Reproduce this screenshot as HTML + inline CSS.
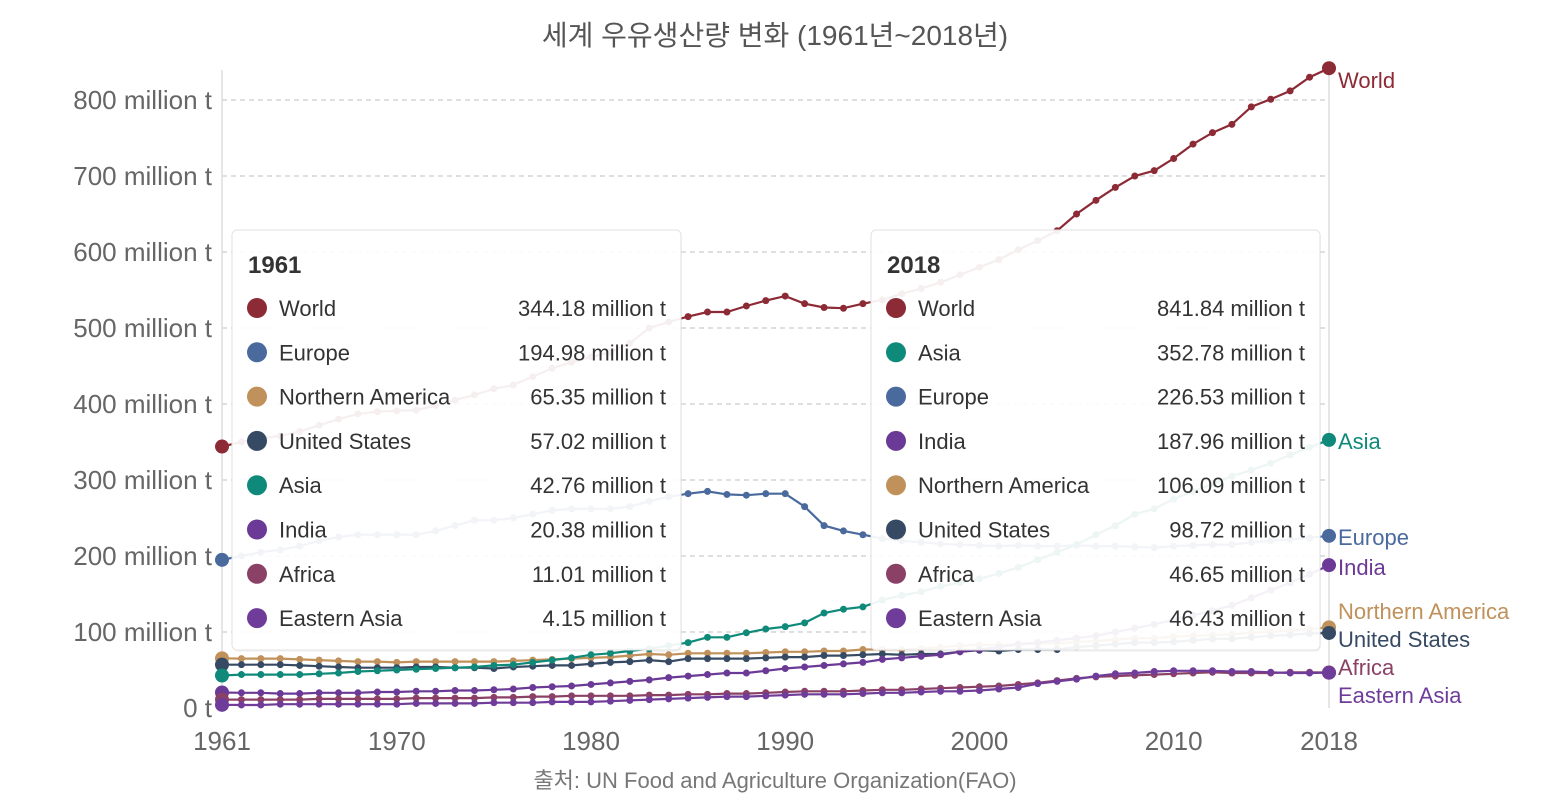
<!DOCTYPE html>
<html><head><meta charset="utf-8">
<style>
body{margin:0;background:#fff;width:1550px;height:800px;overflow:hidden;font-family:"Liberation Sans","Noto Sans CJK KR",sans-serif;}
svg text{font-family:"Liberation Sans","Noto Sans CJK KR",sans-serif;}
</style></head>
<body>
<svg id="chart" width="1550" height="800"></svg>
<script>
const years = []; for (let y = 1961; y <= 2018; y++) years.push(y);
const seriesNames = ["World","Europe","Northern America","United States","Asia","India","Africa","Eastern Asia"];
const seriesColors = ["#8c2a35","#4a6a9e","#c0915a","#374a63","#0f8a7a","#6b3a96","#8b4066","#6f3d99"];
const world = [344,350,355,358,364,372,380,387,390,391,392,398,405,412,420,425,436,447,455,462,468,480,500,508,515,521,521,529,536,542,532,527,526,532,537,545,552,560,570,580,590,603,615,628,650,668,685,700,707,723,742,757,768,791,801,812,830,841.84];
const europe = [194.98,200,205,208,213,220,225,228,228,228,228,233,240,247,247,250,255,260,262,262,262,265,272,278,282,285,281,280,282,282,265,240,233,228,223,220,218,216,215,214,213,214,213,213,214,213,213,212,211,213,214,215,215,218,220,222,224,226.53];
const asia = [42.76,44,44,44,44,45,46,48,49,50,51,52,53,54,56,57,60,63,66,70,72,75,78,82,86,93,93,99,104,107,112,125,130,133,142,148,153,160,165,170,177,185,195,205,215,228,240,255,262,275,285,295,305,313,322,333,343,352.78];
const india = [20.38,20,20,19,19,20,20,20,21,21,22,22,23,23,24,25,27,28,29,31,33,35,37,40,42,44,46,46,49,52,54,56,58,60,64,66,68,70,74,77,80,84,86,89,92,95,100,105,110,116,122,128,135,145,155,165,176,187.96];
const namerica = [65.35,65,65,65,64,63,62,61,61,60,61,61,61,61,61,62,63,64,65,66,67,69,71,70,72,72,72,72,73,74,74,75,75,77,77,77,78,80,82,83,83,84,85,85,87,88,90,92,92,94,95,96,97,99,100,102,104,106.09];
const us = [57.02,57,57,57,56,55,54,53,53,53,54,54,53,53,52,54,55,56,56,58,60,61,63,61,65,65,65,65,66,67,67,69,69,70,71,70,71,71,74,76,75,77,77,77,80,82,84,86,86,87,89,91,91,93,95,96,98,98.72];
const africa = [11.01,11,11,11,11,12,12,12,12,12,13,13,13,13,14,14,15,15,16,16,16,16,17,17,18,18,19,19,20,21,22,22,22,23,24,24,25,26,27,28,29,31,33,36,39,41,42,43,44,45,46,47,46,46,46,47,47,46.65];
const easia = [4.15,4,4,5,5,5,5,5,5,5,6,6,6,6,7,7,7,8,8,8,9,10,11,12,13,14,15,15,16,17,18,18,18,19,20,20,21,22,22,23,25,27,32,35,38,42,45,46,48,49,49,49,48,48,47,46,46,46.43];
const seriesData = [world,europe,namerica,us,asia,india,africa,easia];
const yTicks = [0,100,200,300,400,500,600,700,800];
const yTickLabels = ["0 t","100 million t","200 million t","300 million t","400 million t","500 million t","600 million t","700 million t","800 million t"];
const xTicks = [1961,1970,1980,1990,2000,2010,2018];
const tip1Names = ["World","Europe","Northern America","United States","Asia","India","Africa","Eastern Asia"];
const tip1Values = ["344.18","194.98","65.35","57.02","42.76","20.38","11.01","4.15"];
const tip2Names = ["World","Asia","Europe","India","Northern America","United States","Africa","Eastern Asia"];
const tip2Values = ["841.84","352.78","226.53","187.96","106.09","98.72","46.65","46.43"];
const endLabelY = {"World":80,"Asia":441,"Europe":537,"India":567,"Northern America":611,"United States":639,"Africa":667,"Eastern Asia":695};

const svg = document.getElementById('chart');
const NS = "http://www.w3.org/2000/svg";
const X = y => 222 + (y - 1961) * (1107 / 57);
const Y = v => 708 - v * 0.76;
function mk(tag, attrs, parent){const e=document.createElementNS(NS,tag);for(const k in attrs)e.setAttribute(k,attrs[k]);(parent||svg).appendChild(e);return e;}

let t = mk('text',{x:775,y:45,'text-anchor':'middle','font-size':28,fill:'#555'});


t.textContent='세계 우유생산량 변화 (1961년~2018년)';
t = mk('text',{x:775,y:788,'text-anchor':'middle','font-size':22,fill:'#777'});


t.textContent='출처: UN Food and Agriculture Organization(FAO)';

yTicks.forEach((v,i)=>{
  if(v>0){const g=mk('line',{x1:222,x2:1329,y1:Y(v),y2:Y(v),stroke:'#ccc','stroke-dasharray':'5,4','stroke-width':1.2});
  
  }
  const l=mk('text',{x:212,y:Y(v)+9,'text-anchor':'end','font-size':26,fill:'#666'});
  
  
  l.textContent=yTickLabels[i];
});
let ax=mk('line',{x1:222,x2:222,y1:70,y2:708,stroke:'#ddd','stroke-width':1.5});


ax=mk('line',{x1:1329,x2:1329,y1:70,y2:708,stroke:'#ddd','stroke-width':1.5});


xTicks.forEach(yr=>{
  const l=mk('text',{x:X(yr),y:750,'text-anchor':'middle','font-size':26,fill:'#666'});
  
  
  l.textContent=yr;
});

seriesData.forEach((d,si)=>{
  const c=seriesColors[si];
  const p=mk('path',{d:d.map((v,i)=>(i?'L':'M')+X(years[i]).toFixed(1)+','+Y(v).toFixed(1)).join(''),fill:'none',stroke:c,'stroke-width':2.2});
  
  
  d.forEach((v,i)=>{
    const big=(i===0||i===d.length-1);
    const dot=mk('circle',{cx:X(years[i]),cy:Y(v),r:big?7:3.5,fill:c});
    
    
  });
  const lb=mk('text',{x:1338,y:endLabelY[seriesNames[si]]+8,'font-size':22,fill:c});
  
  
  lb.textContent=seriesNames[si];
});

function tooltip(x0,title,names,vals,nm){
  const g=mk('g',{});
  
  
  mk('rect',{x:x0+1,y:232,width:449,height:420,rx:5,fill:'#000',opacity:0.04},g);
  mk('rect',{x:x0,y:230,width:449,height:420,rx:5,fill:'#fff','fill-opacity':0.93,stroke:'#e2e2e2'},g);
  const tt=mk('text',{x:x0+16,y:273,'font-size':24,'font-weight':'bold',fill:'#333'},g);
  tt.textContent=title;
  names.forEach((n,i)=>{
    const yy=308+i*44.3;
    const c=seriesColors[seriesNames.indexOf(n)];
    mk('circle',{cx:x0+25,cy:yy,r:10,fill:c},g);
    const a=mk('text',{x:x0+47,y:yy+8,'font-size':22,fill:'#333'},g);
    
    
    a.textContent=n;
    const b=mk('text',{x:x0+434,y:yy+8,'font-size':22,fill:'#333','text-anchor':'end'},g);
    
    
    b.textContent=vals[i]+' million t';
  });
}
tooltip(232,'1961',tip1Names,tip1Values,'tooltip-1961');
tooltip(871,'2018',tip2Names,tip2Values,'tooltip-2018');
</script>
</body></html>
